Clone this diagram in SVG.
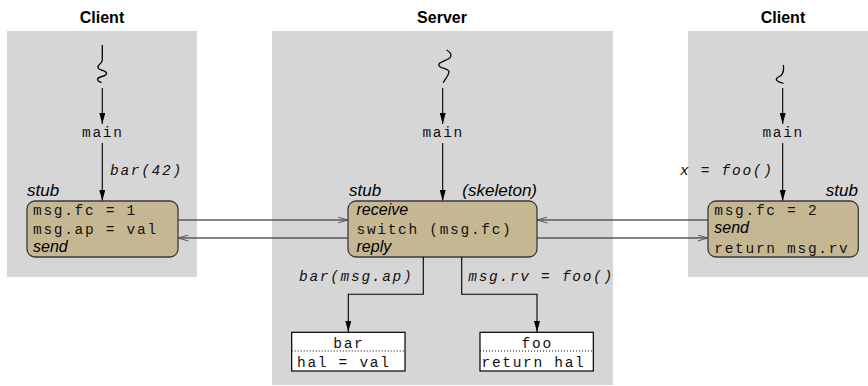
<svg xmlns="http://www.w3.org/2000/svg" width="868" height="386" viewBox="0 0 868 386">
  <style>
    .panel { fill: #d6d6d6; }
    .title { font-family: "Liberation Sans", Arial, sans-serif; font-weight: bold; font-size: 16px; fill: #000; text-anchor: middle; }
    .lbl { font-family: "Liberation Sans", Arial, sans-serif; font-style: italic; font-size: 17px; fill: #000; }
    .inbox { font-size: 16px; }
    .mono { font-family: "Liberation Mono", "Courier New", monospace; font-size: 14.5px; letter-spacing: 1.7px; fill: #111; }
    .imono { font-family: "Liberation Mono", "Courier New", monospace; font-style: italic; font-size: 14.5px; letter-spacing: 1.7px; fill: #111; }
    .stubbox { fill: #c6b793; stroke: #3a3a3a; stroke-width: 1.3; }
    .fnbox { fill: #ffffff; stroke: #000; stroke-width: 1.2; }
    .dots { stroke: #000; stroke-width: 1; stroke-dasharray: 1 2; }
    .flow { stroke: #000; stroke-width: 1.1; fill: none; marker-end: url(#solid); }
    .msg { stroke: #5a5a5a; stroke-width: 1.5; fill: none; marker-end: url(#open); }
    .thread { stroke: #000; stroke-width: 1.3; fill: none; }
  </style>
  <defs>
    <marker id="solid" viewBox="0 0 11 6" refX="11" refY="3" markerWidth="11" markerHeight="6" markerUnits="userSpaceOnUse" orient="auto">
      <path d="M0,0 L11,3 L0,6 z" fill="#000"/>
    </marker>
    <marker id="open" viewBox="0 0 11 7" refX="10.5" refY="3.5" markerWidth="11" markerHeight="7" markerUnits="userSpaceOnUse" orient="auto">
      <path d="M0,0.5 L10.5,3.5 L0,6.5" fill="none" stroke="#5a5a5a" stroke-width="1"/>
    </marker>
  </defs>

  <!-- process panels -->
  <rect class="panel" x="7" y="31" width="190" height="246"/>
  <rect class="panel" x="272" y="31" width="341" height="354"/>
  <rect class="panel" x="688" y="31" width="180" height="246"/>

  <text class="title" x="102" y="23">Client</text>
  <text class="title" x="442" y="23">Server</text>
  <text class="title" x="783" y="23">Client</text>

  <!-- message connectors between the stubs -->
  <g id="connectors">
    <line class="msg" x1="178" y1="220" x2="348" y2="220"/>
    <line class="msg" x1="348" y1="238" x2="178" y2="238"/>
    <line class="msg" x1="708" y1="220" x2="537" y2="220"/>
    <line class="msg" x1="537" y1="238" x2="708" y2="238"/>
  </g>

  <!-- left client -->
  <g id="client-left">
    <path class="thread" d="M102.3,45 L102.3,60 C102.3,64 97.5,64 98,67.5 C98.5,71 106.5,70 106.5,73.5 C106.5,77 97.5,76 97.5,79.5 C97.5,81 100,82 101.7,82.5"/>
    <line class="flow" x1="102.3" y1="88" x2="102.3" y2="124"/>
    <text class="mono" x="82" y="137">main</text>
    <line class="flow" x1="102.3" y1="143" x2="102.3" y2="201"/>
    <text class="imono" x="110" y="175">bar(42)</text>
    <text class="lbl" x="27" y="196">stub</text>
    <rect class="stubbox" x="27" y="201" width="151" height="56" rx="8" ry="8"/>
    <text class="mono" x="33" y="215">msg.fc = 1</text>
    <text class="mono" x="33" y="233.5">msg.ap = val</text>
    <text class="lbl inbox" x="33" y="252">send</text>
  </g>

  <!-- server -->
  <g id="server">
    <path class="thread" d="M446.7,50 C450,52 452,54 450.5,57 C448,61 438.5,61 438.8,65 C439,69 449.5,68 449,72 C448.5,76 445,79 443.3,82.7"/>
    <line class="flow" x1="442.7" y1="88" x2="442.7" y2="124"/>
    <text class="mono" x="422.4" y="137">main</text>
    <line class="flow" x1="442.7" y1="143" x2="442.7" y2="201"/>
    <text class="lbl" x="349" y="196">stub</text>
    <text class="lbl" x="537" y="196" text-anchor="end">(skeleton)</text>
    <rect class="stubbox" x="348" y="201" width="189" height="56" rx="8" ry="8"/>
    <text class="lbl inbox" x="356.5" y="215">receive</text>
    <text class="mono" x="356.5" y="233.5">switch (msg.fc)</text>
    <text class="lbl inbox" x="356.5" y="252">reply</text>
  </g>

  <!-- dispatch from the skeleton to the procedures -->
  <g id="dispatch">
    <polyline class="flow" points="423.3,257 423.3,294.3 348.3,294.3 348.3,332"/>
    <polyline class="flow" points="461.7,257 461.7,294.3 537,294.3 537,332"/>
    <text class="imono" x="299" y="280.5">bar(msg.ap)</text>
    <text class="imono" x="468.3" y="280.5">msg.rv = foo()</text>
  </g>

  <g id="proc-bar">
    <rect class="fnbox" x="291.7" y="332.3" width="113.3" height="38.7"/>
    <line class="dots" x1="291.7" y1="351" x2="405" y2="351"/>
    <text class="mono" x="333.3" y="347.5">bar</text>
    <text class="mono" x="297" y="366.5">hal = val</text>
  </g>

  <g id="proc-foo">
    <rect class="fnbox" x="480" y="332.3" width="113.3" height="38.7"/>
    <line class="dots" x1="480" y1="351" x2="593.3" y2="351"/>
    <text class="mono" x="521.6" y="347.5">foo</text>
    <text class="mono" x="481.5" y="366.5">return hal</text>
  </g>

  <!-- right client -->
  <g id="client-right">
    <path class="thread" d="M783.3,65 C784,69 783,73 781.5,75 C779,77.5 776,77 776.3,79.5 C776.6,82 781,82 783.5,83.5"/>
    <line class="flow" x1="782.7" y1="88" x2="782.7" y2="124"/>
    <text class="mono" x="762.4" y="137">main</text>
    <line class="flow" x1="782.7" y1="143" x2="782.7" y2="201"/>
    <text class="imono" x="680" y="175">x = foo()</text>
    <text class="lbl" x="858" y="196" text-anchor="end">stub</text>
    <rect class="stubbox" x="708" y="201" width="150.3" height="56" rx="8" ry="8"/>
    <text class="mono" x="714.3" y="215">msg.fc = 2</text>
    <text class="lbl inbox" x="714.3" y="233">send</text>
    <text class="mono" x="714.3" y="253">return msg.rv</text>
  </g>
</svg>
